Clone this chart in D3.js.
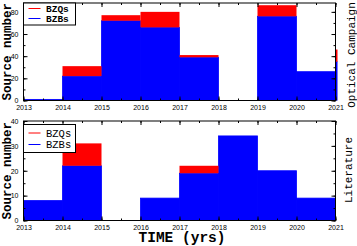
<!DOCTYPE html>
<html>
<head>
<meta charset="utf-8">
<script src="https://cdn.jsdelivr.net/npm/d3@7"></script>
<style>
  body { margin: 0; background: #fff; }
  .tick text { font-family: "Liberation Sans", Arial, sans-serif; font-size: 7px; fill: #000; }
  .mono { font-family: "Liberation Mono", "Courier New", monospace; fill: #000; }
</style>
</head>
<body>
<div id="chart"></div>
<script>
// histogram data, one bin per year
let years = [2013, 2014, 2015, 2016, 2017, 2018, 2019, 2020, 2021];
let optBZB = [1, 22, 72, 66, 39, 0, 76, 26, 35];
let optBZQ = [0, 9, 5, 14, 2, 0, 10, 0, 11];
let litYears = [2013, 2014, 2015, 2016, 2017, 2018, 2019, 2020];
let litBZB = [8, 22, 0, 9, 19, 34, 20, 9];
let litBZQ = [0, 9, 0, 0, 3, 0, 0, 0];
let xTicks = [2013, 2014, 2015, 2016, 2017, 2018, 2019, 2020, 2021];

let svgwidth = 357;
let svgheight = 246;

let left = 23.5, right = 335.5;

let svg = d3.select('#chart').append('svg')
    .attr('width', svgwidth)
    .attr('height', svgheight);

let x = d3.scaleLinear().domain([2013, 2021]).range([left, right]);

function panel(cfg) {
    let y = d3.scaleLinear().domain([0, cfg.ymax]).range([cfg.bottom, cfg.top]);
    let g = svg.append('g');
    let w = right - left, h = cfg.bottom - cfg.top;

    let clipId = 'clip' + cfg.id;
    svg.append('clipPath').attr('id', clipId)
        .append('rect')
        .attr('x', left).attr('y', cfg.top - 1)
        .attr('width', w + 2).attr('height', h + 1);

    let bars = g.append('g').attr('clip-path', `url(#${clipId})`);
    let rows = cfg.years.map((yr, i) => ({yr: yr, bzb: cfg.bzb[i], bzq: cfg.bzq[i]}));

    bars.selectAll('.bzb')
        .data(rows)
        .enter()
        .append('rect')
        .attr('x', d => x(d.yr))
        .attr('width', d => x(d.yr + 1) - x(d.yr))
        .attr('y', d => y(d.bzb))
        .attr('height', d => y(0) - y(d.bzb))
        .attr('fill', '#0000ff')
        .attr('stroke', '#0000ff')
        .attr('stroke-width', 0.8);

    bars.selectAll('.bzq')
        .data(rows.filter(d => d.bzq > 0))
        .enter()
        .append('rect')
        .attr('x', d => x(d.yr))
        .attr('width', d => x(d.yr + 1) - x(d.yr))
        .attr('y', d => y(d.bzb + d.bzq))
        .attr('height', d => y(d.bzb) - y(d.bzb + d.bzq))
        .attr('fill', '#ff0000');

    // frame
    g.append('rect')
        .attr('x', left).attr('y', cfg.top)
        .attr('width', w).attr('height', h)
        .attr('fill', 'none')
        .attr('stroke', '#000')
        .attr('stroke-width', 1);

    let minorX = d3.range(2013, 2021.01, 0.5);
    let minorY = d3.range(0, cfg.ymax + 0.01, cfg.minor);

    // bottom axis with labels
    g.append('g')
        .attr('transform', `translate(0, ${cfg.bottom})`)
        .call(d3.axisBottom(x).tickValues(xTicks).tickFormat(d3.format('d')).tickSize(-4).tickPadding(4.5))
        .call(a => a.select('.domain').remove());
    g.append('g')
        .attr('transform', `translate(0, ${cfg.bottom})`)
        .call(d3.axisBottom(x).tickValues(minorX).tickFormat('').tickSize(-2))
        .call(a => a.select('.domain').remove());
    // top axis, ticks only
    g.append('g')
        .attr('transform', `translate(0, ${cfg.top})`)
        .call(d3.axisTop(x).tickValues(xTicks).tickFormat('').tickSize(-4))
        .call(a => a.select('.domain').remove());
    g.append('g')
        .attr('transform', `translate(0, ${cfg.top})`)
        .call(d3.axisTop(x).tickValues(minorX).tickFormat('').tickSize(-2))
        .call(a => a.select('.domain').remove());
    // left axis
    g.append('g')
        .attr('transform', `translate(${left}, 0)`)
        .call(d3.axisLeft(y).tickValues(cfg.major).tickSize(-4).tickPadding(5))
        .call(a => a.select('.domain').remove());
    g.append('g')
        .attr('transform', `translate(${left}, 0)`)
        .call(d3.axisLeft(y).tickValues(minorY).tickFormat('').tickSize(-2))
        .call(a => a.select('.domain').remove());
    // right axis
    g.append('g')
        .attr('transform', `translate(${right}, 0)`)
        .call(d3.axisRight(y).tickValues(cfg.major).tickFormat('').tickSize(-4))
        .call(a => a.select('.domain').remove());
    g.append('g')
        .attr('transform', `translate(${right}, 0)`)
        .call(d3.axisRight(y).tickValues(minorY).tickFormat('').tickSize(-2))
        .call(a => a.select('.domain').remove());

    // legend
    let lg = cfg.legend;
    g.append('rect')
        .attr('x', left).attr('y', lg.y)
        .attr('width', 52).attr('height', lg.h)
        .attr('fill', '#fff')
        .attr('stroke', '#000');
    [['BZQs', '#ff0000', lg.r1], ['BZBs', '#0000ff', lg.r2]].forEach(function(r) {
        g.append('line')
            .attr('x1', 28.5).attr('x2', 40.5)
            .attr('y1', r[2]).attr('y2', r[2])
            .attr('stroke', r[1]);
        g.append('text')
            .classed('mono', true)
            .attr('x', 46)
            .attr('y', r[2] + lg.fs * 0.35)
            .attr('font-size', lg.fs + 'px')
            .attr('font-weight', lg.bold ? 'bold' : 'normal')
            .text(r[0]);
    });

    // y label
    let mid = (cfg.top + cfg.bottom) / 2;
    svg.append('text')
        .classed('mono', true)
        .attr('transform', `translate(10.5, ${mid}) rotate(-90)`)
        .attr('text-anchor', 'middle')
        .attr('font-size', '12.5px')
        .attr('font-weight', 'bold')
        .text('Source number');

    svg.append('text')
        .classed('mono', true)
        .attr('transform', `translate(${cfg.rx}, ${cfg.ry}) rotate(-90)`)
        .attr('text-anchor', 'middle')
        .attr('font-size', '11px')
        .text(cfg.rlabel);
}

panel({id: 1, top: 3, bottom: 100.5, ymax: 88, major: [0, 20, 40, 60, 80], minor: 10,
       years: years, bzb: optBZB, bzq: optBZQ,
       legend: {y: 3, h: 22, r1: 8.5, r2: 18.5, fs: 9.5, bold: true},
       rx: 355, ry: 55, rlabel: 'Optical Campaign'});

panel({id: 2, top: 121, bottom: 220.5, ymax: 40, major: [0, 10, 20, 30, 40], minor: 5,
       years: litYears, bzb: litBZB, bzq: litBZQ,
       legend: {y: 124.5, h: 28, r1: 133, r2: 144.5, fs: 10.5, bold: false},
       rx: 352, ry: 170, rlabel: 'Literature'});

svg.append('text')
    .classed('mono', true)
    .attr('x', 182)
    .attr('y', 242)
    .attr('text-anchor', 'middle')
    .attr('font-size', '14.5px')
    .attr('font-weight', 'bold')
    .text('TIME (yrs)');
</script>
</body>
</html>
